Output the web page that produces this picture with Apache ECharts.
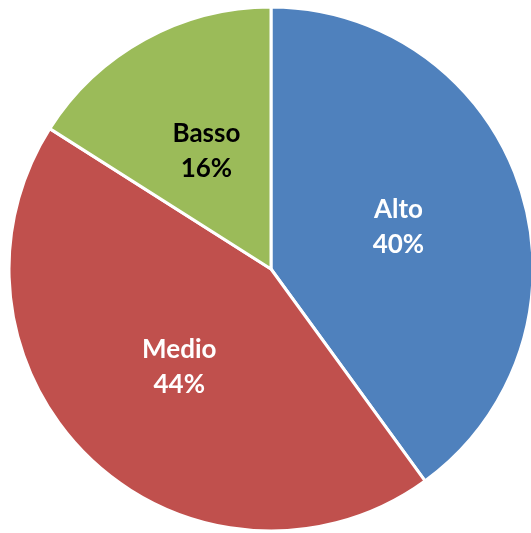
<!DOCTYPE html>
<html>
<head>
<meta charset="utf-8">
<script src="https://cdn.jsdelivr.net/npm/echarts@6/dist/echarts.min.js"></script>
<style>
  html, body { margin: 0; padding: 0; background: #fff; }
  #chart { width: 531px; height: 533px; }
</style>
</head>
<body>
<div id="chart"></div>
<script>
const categories = ["Alto", "Medio", "Basso"];
const values = [40, 44, 16];
const colors = ["#4F81BD", "#C0504D", "#9BBB59"];
const labelColors = ["#ffffff", "#ffffff", "#000000"];

let myChart = echarts.init(document.getElementById("chart"));
myChart.setOption({
  animation: false,
  series: [
    {
      type: "pie",
      center: [271, 269],
      radius: 262,
      startAngle: 90,
      clockwise: true,
      itemStyle: { borderColor: "#fff", borderWidth: 3 },
      label: {
        show: true,
        position: "inside",
        formatter: "{b}\n{d}%",
        fontFamily: "Lato",
        fontWeight: "bold",
        fontSize: 26,
        lineHeight: 35,
      },
      labelLine: { show: false },
      emphasis: { disabled: true },
      data: categories.map((name, i) => ({
        name: name,
        value: values[i],
        itemStyle: { color: colors[i] },
        label: { color: labelColors[i] },
      })),
    },
  ],
});
</script>
</body>
</html>
